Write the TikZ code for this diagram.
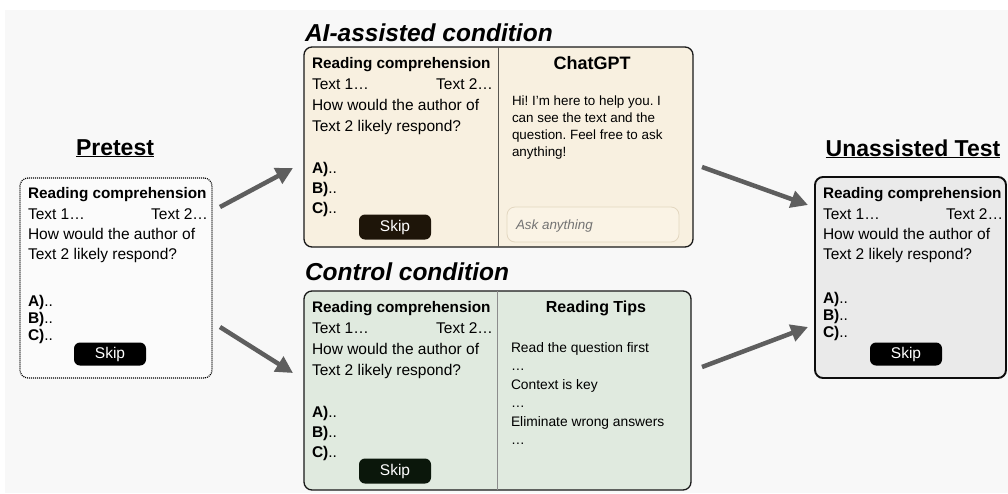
\documentclass[tikz,border=0pt]{standalone}
\usepackage{fontspec}
\setmainfont{Liberation Sans}
\usetikzlibrary{arrows.meta,positioning,backgrounds}
\frenchspacing

\definecolor{canvas}{HTML}{F8F8F8}
\definecolor{aifill}{HTML}{F8F0E0}
\definecolor{ctrlfill}{HTML}{E0EADF}
\definecolor{prefill}{HTML}{FBFBFB}
\definecolor{postfill}{HTML}{EAEAEA}
\definecolor{flowgray}{HTML}{5E5E5E}
\definecolor{aiskip}{HTML}{1E1509}
\definecolor{ctrlskip}{HTML}{0B170B}
\definecolor{inputline}{HTML}{E3D7C0}
\definecolor{inputfill}{HTML}{FAF3E5}

\begin{document}
\begin{tikzpicture}[x=1pt,y=-1pt,
  every node/.style={inner sep=0pt,outer sep=0pt},
  panel/.style={line width=1.3pt,rounded corners=8pt,anchor=north west},
  divider/.style={draw=black!45,line width=0.8pt},
  head/.style={font=\fontsize{15.3}{18}\selectfont\bfseries,anchor=base west},
  body/.style={font=\fontsize{15.5}{18}\selectfont,anchor=base west},
  chat/.style={font=\fontsize{13.4}{16}\selectfont,anchor=base west},
  tip/.style={font=\fontsize{13.8}{16}\selectfont,anchor=base west},
  side/.style={font=\fontsize{18}{20}\selectfont\bfseries,anchor=base},
  cond/.style={font=\fontsize{24.5}{28}\selectfont\bfseries\itshape,anchor=base west},
  phase/.style={font=\fontsize{23}{26}\selectfont\bfseries,anchor=base},
  skipbtn/.style={text=white,font=\fontsize{15.5}{18}\selectfont,rounded corners=6pt,
    minimum width=72pt,minimum height=25pt},
  flow/.style={draw=flowgray,line width=4.5pt,-{Triangle[length=17pt,width=17pt]}}]

  \useasboundingbox (0,0) rectangle (1008,493);
  \fill[canvas] (5,10) rectangle (1008,493);

  % Pretest
  \node[phase] (pre title) at (115,155) {\underline{Pretest}};
  \begin{scope}[shift={(20,178)}]
    \node[panel,draw=black,fill=prefill,line width=1.2pt,dash pattern=on 1pt off 1pt,
      minimum width=192pt,minimum height=200pt] (pre box) at (0,0) {};
    \node[head] (pre head) at (8,20.5) {Reading comprehension};
    \node[body] (pre text 1) at (8,41.5) {Text 1…};
    \node[body,anchor=base east] (pre text 2) at (188,41.5) {Text 2…};
    \node[body] (pre q 1) at (8,61) {How would the author of};
    \node[body] (pre q 2) at (8,81) {Text 2 likely respond?};
    \node[body] (pre a) at (8,128.5) {\textbf{A)}..};
    \node[body] (pre b) at (8,145.5) {\textbf{B)}..};
    \node[body] (pre c) at (8,162.5) {\textbf{C)}..};
    \node[skipbtn,fill=black,minimum height=23pt] (pre skip) at (90,176) {Skip};
  \end{scope}

  % AI-assisted condition
  \node[cond] (ai title) at (305,41) {AI-assisted condition};
  \begin{scope}[shift={(304,47)}]
    \node[panel,draw=black!90,fill=aifill,minimum width=389pt,minimum height=200pt] (ai box) at (0,0) {};
    \draw[divider,draw=black!40!aifill!60!black] (194,0) -- (194,200);
    \node[head] (ai head) at (8,21.5) {Reading comprehension};
    \node[body] (ai text 1) at (8,42.5) {Text 1…};
    \node[body,anchor=base east] (ai text 2) at (189,42.5) {Text 2…};
    \node[body] (ai q 1) at (8,63.5) {How would the author of};
    \node[body] (ai q 2) at (8,84.5) {Text 2 likely respond?};
    \node[body] (ai a) at (8,126) {\textbf{A)}..};
    \node[body] (ai b) at (8,146) {\textbf{B)}..};
    \node[body] (ai c) at (8,166) {\textbf{C)}..};
    \node[skipbtn,fill=aiskip] (ai skip) at (91,180) {Skip};
    % chat side
    \node[side] (ai chat) at (288,22.5) {ChatGPT};
    \node[chat] (ai msg 1) at (208,58) {Hi! I'm here to help you. I};
    \node[chat] (ai msg 2) at (208,75) {can see the text and the};
    \node[chat] (ai msg 3) at (208,92) {question. Feel free to ask};
    \node[chat] (ai msg 4) at (208,109) {anything!};
    \node[draw=inputline,fill=inputfill,line width=0.8pt,rounded corners=8pt,anchor=north west,
      minimum width=172pt,minimum height=35pt] (ai input) at (203,160) {};
    \node[chat,font=\fontsize{13.4}{16}\selectfont\itshape,text=black!55] (ai ask) at (212,182) {Ask anything};
  \end{scope}

  % Control condition
  \node[cond] (ctrl title) at (305,280) {Control condition};
  \begin{scope}[shift={(304,291)}]
    \node[panel,draw=black!90,fill=ctrlfill,minimum width=387pt,minimum height=199pt] (ctrl box) at (0,0) {};
    \draw[divider] (193,0) -- (193,199);
    \node[head] (ctrl head) at (8,21.5) {Reading comprehension};
    \node[body] (ctrl text 1) at (8,42.5) {Text 1…};
    \node[body,anchor=base east] (ctrl text 2) at (189,42.5) {Text 2…};
    \node[body] (ctrl q 1) at (8,63.5) {How would the author of};
    \node[body] (ctrl q 2) at (8,84.5) {Text 2 likely respond?};
    \node[body] (ctrl a) at (8,126) {\textbf{A)}..};
    \node[body] (ctrl b) at (8,146) {\textbf{B)}..};
    \node[body] (ctrl c) at (8,166) {\textbf{C)}..};
    \node[skipbtn,fill=ctrlskip] (ctrl skip) at (91,180) {Skip};
    % tips side
    \node[side,font=\fontsize{16}{18}\selectfont\bfseries] (ctrl tips) at (292,21.5) {Reading Tips};
    \node[tip] (ctrl tip 1) at (207,61) {Read the question first};
    \node[tip] (ctrl dots 1) at (207,79.5) {…};
    \node[tip] (ctrl tip 2) at (207,98) {Context is key};
    \node[tip] (ctrl dots 2) at (207,116.5) {…};
    \node[tip] (ctrl tip 3) at (207,135) {Eliminate wrong answers};
    \node[tip] (ctrl dots 3) at (207,153.5) {…};
  \end{scope}

  % Unassisted test
  \node[phase] (post title) at (913,156) {\underline{Unassisted Test}};
  \begin{scope}[shift={(815,177)}]
    \node[panel,draw=black!95,fill=postfill,line width=1.9pt,
      minimum width=191pt,minimum height=201pt] (post box) at (0,0) {};
    \node[head] (post head) at (8,21.5) {Reading comprehension};
    \node[body] (post text 1) at (8,42.5) {Text 1…};
    \node[body,anchor=base east] (post text 2) at (188,42.5) {Text 2…};
    \node[body] (post q 1) at (8,62) {How would the author of};
    \node[body] (post q 2) at (8,82) {Text 2 likely respond?};
    \node[body] (post a) at (8,126.5) {\textbf{A)}..};
    \node[body] (post b) at (8,143.5) {\textbf{B)}..};
    \node[body] (post c) at (8,160.5) {\textbf{C)}..};
    \node[skipbtn,fill=black,minimum height=23pt] (post skip) at (91,177) {Skip};
  \end{scope}

  % Connecting arrows
  \coordinate (pre out 1) at (220,207);
  \coordinate (pre out 2) at (220,327);
  \coordinate (ai in) at (293,168);
  \coordinate (ctrl in) at (293,373);
  \coordinate (ai out) at (702,167);
  \coordinate (ctrl out) at (702,367);
  \coordinate (post in 1) at (808,205);
  \coordinate (post in 2) at (808,327);
  \draw[flow] (pre out 1) -- (ai in);
  \draw[flow] (pre out 2) -- (ctrl in);
  \draw[flow] (ai out) -- (post in 1);
  \draw[flow] (ctrl out) -- (post in 2);
\end{tikzpicture}
\end{document}
